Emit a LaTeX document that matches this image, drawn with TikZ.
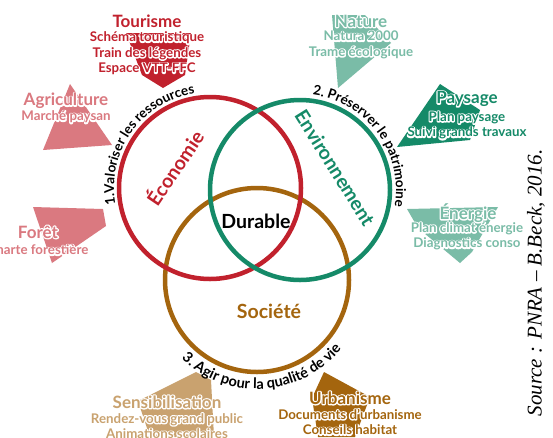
\documentclass[tikz,border=0pt]{standalone}
\usepackage{fontspec}
\setmainfont{Lato}
\newfontfamily\srcfont{Liberation Serif}
\usetikzlibrary{decorations.text}
\definecolor{ecored}{HTML}{C1212D}
\definecolor{ecolight}{HTML}{DA7980}
\definecolor{envgreen}{HTML}{158A68}
\definecolor{envlight}{HTML}{7ABCA7}
\definecolor{socbrown}{HTML}{A4650E}
\definecolor{soclight}{HTML}{C9A26F}
\newcommand\cw[1]{\rlap{\special{pdf:literal direct 1 Tr 2.4 w 1 j 1 1 1 RG}#1\special{pdf:literal direct 0 Tr}}#1}
\newcommand\arcfont{\fontsize{13.5}{13.5}\selectfont\bfseries}
\newcommand\arcfontb{\fontsize{14.5}{14.5}\selectfont\bfseries}
\begin{document}
\begin{tikzpicture}[x=1pt,y=-1pt,
  hdr/.style={font=\fontsize{17}{17}\selectfont\bfseries, inner sep=0pt},
  sub/.style={font=\fontsize{13.3}{15.5}\selectfont\bfseries, align=center, inner sep=0pt},
  big/.style={font=\fontsize{19.5}{19.5}\selectfont\bfseries, inner sep=0pt},
  ring/.style={line width=4.5pt},
  arctext/.style={decorate, decoration={text along path, text align=center, text={#1}}}
]
\useasboundingbox (0,0) rectangle (553,437);
\fill[white] (0,0) rectangle (553,437);

% arrow shapes
\fill[ecored] (126,33) -- (191,33) -- (185,75) -- (163,88) -- (142,75) -- cycle;
\fill[ecolight] (70,84) -- (112,145) -- (43,150) -- cycle;
\fill[ecolight] (33,207) -- (103,209) -- (106,226) -- (52,263) -- cycle;
\fill[envlight] (332,15) -- (365,15) -- (391,43) -- (338,88) -- cycle;
\fill[envgreen] (440,84) -- (480,110) -- (470,140) -- (397,147) -- cycle;
\fill[envlight] (407,209) -- (498,207) -- (472,252) -- (460,263) -- (418,228) -- cycle;
\fill[soclight] (196,372) -- (211,380) -- (214,437) -- (150,437) -- (138,401) -- cycle;
\fill[socbrown] (324,372) -- (370,397) -- (355,437) -- (318,437) -- (312,398) -- cycle;

% circles
\coordinate (E) at (210,188);
\coordinate (N) at (300,190);
\coordinate (S) at (257,280);
\draw[ring, socbrown] (S) circle[radius=92];
\draw[ring, ecored] (E) circle[radius=91];
\draw[ring, envgreen] (N) circle[radius=90];

% texts along the circles
\path[arctext={|\arcfont|1.Valoriser les ressources}] (E) ++(-204.4:96) arc[start angle=-204.4, end angle=-84.4, radius=96];
\path[arctext={|\arcfont|2. Préserver le patrimoine}] (N) ++(-96.2:96) arc[start angle=-96.2, end angle=23.8, radius=96];
\path[arctext={|\arcfontb|3. Agir pour la qualité de vie}] (S) ++(-213:109) arc[start angle=-213, end angle=-334, radius=109];

% inner labels
\node[big, text=ecored, rotate=56] (eco) at (174,167) {\cw{Économie}};
\node[big, text=envgreen, rotate=-58] (env) at (335,168) {\cw{Environnement}};
\node[big, text=black] (dur) at (256,221) {Durable};
\node[big, text=socbrown] (soc) at (269,311) {\cw{Société}};

% outer labels
\node[hdr, text=ecored] (tour) at (147,21) {\cw{Tourisme}};
\node[sub, text=ecored] (tourL) at (147,53.5) {\cw{Schéma touristique}\\\cw{Train des légendes}\\\cw{Espace VTT-FFC}};
\node[hdr, text=ecolight] (agri) at (66,101) {\cw{Agriculture}};
\node[sub, text=ecolight] (agriL) at (66,117) {\cw{Marché paysan}};
\node[hdr, text=ecolight] (foret) at (38,232) {\cw{Forêt}};
\node[sub, text=ecolight] (foretL) at (38,250) {\cw{Charte forestière}};
\node[hdr, text=envlight] (nat) at (361,21) {\cw{Nature}};
\node[sub, text=envlight] (natL) at (361,45) {\cw{Natura 2000}\\\cw{Trame écologique}};
\node[hdr, text=envgreen] (pay) at (467,99) {\cw{Paysage}};
\node[sub, text=envgreen] (payL) at (467,125.5) {\cw{Plan paysage}\\\cw{Suivi grands travaux}};
\node[hdr, text=envlight] (ener) at (468,213) {\cw{Énergie}};
\node[sub, text=envlight] (enerL) at (467,236.5) {\cw{Plan climat énergie}\\\cw{Diagnostics conso}};
\node[hdr, text=soclight] (sens) at (167,402) {\cw{Sensibilisation}};
\node[sub, text=soclight] (sensL) at (167,426) {\cw{Rendez-vous grand public}\\\cw{Animations scolaires}};
\node[hdr, text=socbrown] (urb) at (350,398) {\cw{Urbanisme}};
\node[sub, text=socbrown] (urbL) at (350,422) {\cw{Documents d’urbanisme}\\\cw{Conseils habitat}};

% source
\node[rotate=90, inner sep=0pt, font=\srcfont\itshape\fontsize{21}{21}\selectfont] (src) at (536,283) {Source : PNRA – B.Beck, 2016.};
\end{tikzpicture}
\end{document}
